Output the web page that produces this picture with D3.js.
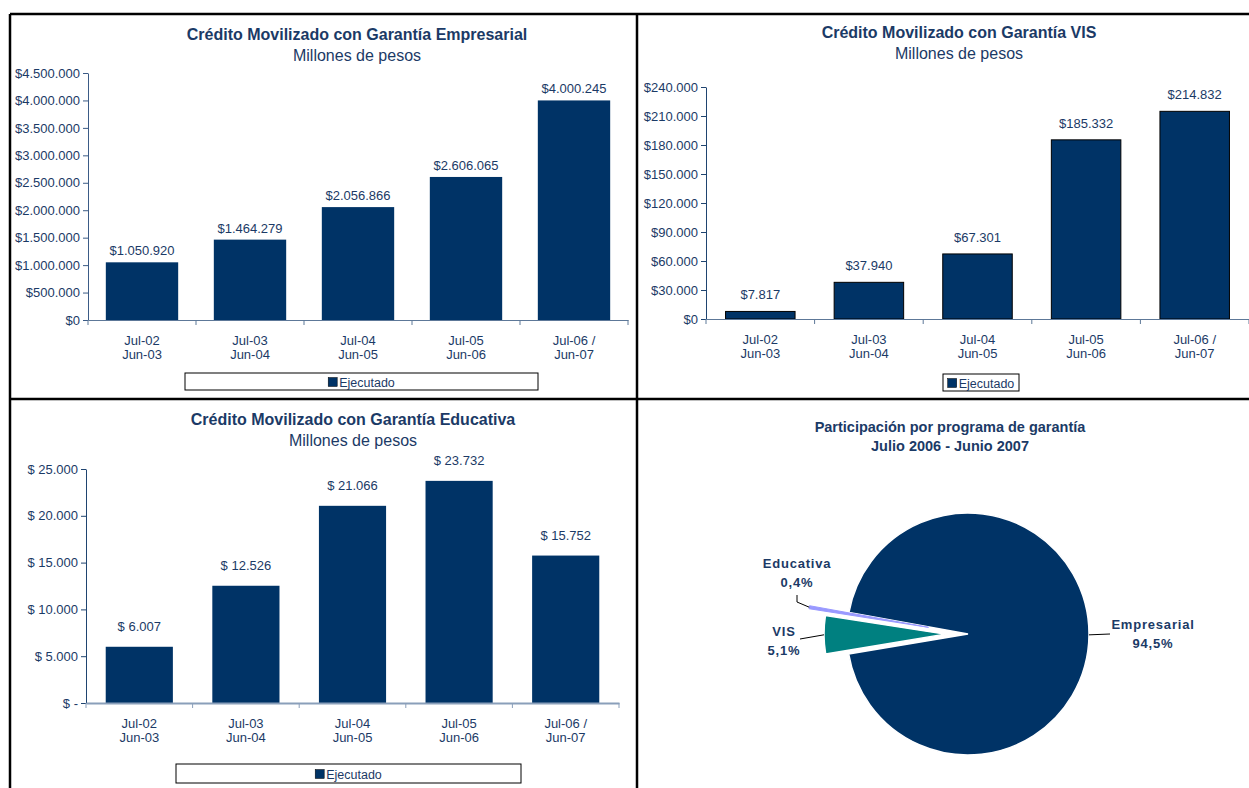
<!DOCTYPE html>
<html>
<head>
<meta charset="utf-8">
<script src="https://cdn.jsdelivr.net/npm/d3@7"></script>
<style>
	body { margin: 0; background: #fff; }
	text { font-family: "Liberation Sans", Arial, sans-serif; }
</style>
</head>
<body>
<div id="chart"></div>
<script>
	// Datos
	const periods = [
		["Jul-02", "Jun-03"], ["Jul-03", "Jun-04"], ["Jul-04", "Jun-05"],
		["Jul-05", "Jun-06"], ["Jul-06 /", "Jun-07"]
	];
	const empresarialValues = [1050920, 1464279, 2056866, 2606065, 4000245];
	const visValues = [7817, 37940, 67301, 185332, 214832];
	const educativaValues = [6007, 12526, 21066, 23732, 15752];
	const empresarialTicks = [0, 500000, 1000000, 1500000, 2000000, 2500000, 3000000, 3500000, 4000000, 4500000];
	const visTicks = [0, 30000, 60000, 90000, 120000, 150000, 180000, 210000, 240000];
	const educativaTicks = [0, 5000, 10000, 15000, 20000, 25000];
	const seriesName = "Ejecutado";
	const programNames = ["Empresarial", "VIS", "Educativa"];
	const programShares = [94.5, 5.1, 0.4];

	const navy = "#003366";
	const textColor = "#1b3a66";

	const es = d3.formatLocale({ decimal: ",", thousands: ".", grouping: [3], currency: ["$", ""] });
	const fmtInt = es.format(",d");
	const fmtPct = es.format(".1f");

	const svg = d3.select("#chart").append("svg")
		.attr("width", 1249)
		.attr("height", 788);

	/**
	 * Dibuja un grafico de barras en su recuadro
	 */
	function drawBarPanel(p) {
		const g = svg.append("g");
		const keys = periods.map(d => d.join(" "));
		const x = d3.scaleBand()
			.domain(keys)
			.range([p.left, p.right])
			.paddingInner(p.padding)
			.paddingOuter(p.padding / 2);
		const y = d3.scaleLinear()
			.domain([0, p.ticks[p.ticks.length - 1]])
			.range([p.bottom, p.top]);

		// titulo
		g.append("text")
			.attr("x", p.titleX).attr("y", p.titleY)
			.attr("text-anchor", "middle")
			.attr("font-size", 16).attr("font-weight", "bold")
			.attr("fill", textColor)
			.text(p.title);
		g.append("text")
			.attr("x", p.titleX).attr("y", p.titleY + 21)
			.attr("text-anchor", "middle")
			.attr("font-size", 16)
			.attr("fill", textColor)
			.text("Millones de pesos");

		// barras
		g.selectAll(".bar")
			.data(p.values)
			.enter().append("rect")
			.attr("class", "bar")
			.attr("x", (d, i) => x(keys[i]))
			.attr("y", d => y(d))
			.attr("width", x.bandwidth())
			.attr("height", d => y(0) - y(d))
			.attr("fill", navy)
			.attr("stroke", p.barStroke || "none")
			.attr("stroke-width", 1);

		g.selectAll(".val")
			.data(p.values)
			.enter().append("text")
			.attr("class", "val")
			.attr("x", (d, i) => x(keys[i]) + x.bandwidth() / 2)
			.attr("y", d => y(d) - p.labelGap)
			.attr("text-anchor", "middle")
			.attr("font-size", 13)
			.attr("fill", textColor)
			.text(p.valueFormat);

		// eje y
		const yAxis = g.append("g")
			.attr("transform", "translate(" + p.left + ",0)")
			.call(d3.axisLeft(y).tickValues(p.ticks).tickFormat(p.tickFormat).tickSize(5).tickSizeOuter(0));
		yAxis.select(".domain").attr("stroke", p.yAxisColor);
		yAxis.selectAll(".tick line").attr("stroke", p.yAxisColor);
		yAxis.selectAll(".tick text")
			.attr("fill", textColor)
			.attr("font-size", 13)
			.attr("font-family", "Liberation Sans, Arial, sans-serif")
			.attr("x", -8);

		// eje x
		const xAxis = g.append("g")
			.attr("transform", "translate(0," + p.bottom + ")")
			.call(d3.axisBottom(x).tickSize(0).tickFormat(""));
		xAxis.select(".domain")
			.attr("stroke", p.xAxisColor)
			.attr("stroke-width", p.xAxisWidth);
		g.selectAll(".xtick")
			.data(d3.range(keys.length + 1))
			.enter().append("line")
			.attr("x1", i => p.left + i * x.step())
			.attr("x2", i => p.left + i * x.step())
			.attr("y1", p.bottom)
			.attr("y2", p.bottom + 5)
			.attr("stroke", p.xAxisColor);

		const cat = g.selectAll(".cat")
			.data(periods)
			.enter().append("text")
			.attr("class", "cat")
			.attr("text-anchor", "middle")
			.attr("font-size", 13)
			.attr("fill", textColor);
		cat.append("tspan")
			.attr("x", (d, i) => x(keys[i]) + x.bandwidth() / 2)
			.attr("y", p.bottom + 25)
			.text(d => d[0]);
		cat.append("tspan")
			.attr("x", (d, i) => x(keys[i]) + x.bandwidth() / 2)
			.attr("y", p.bottom + 39)
			.text(d => d[1]);

		// leyenda
		const lg = g.append("g");
		lg.append("rect")
			.attr("x", p.legend[0]).attr("y", p.legend[1])
			.attr("width", p.legend[2]).attr("height", p.legend[3])
			.attr("fill", "#fff").attr("stroke", "#000");
		const item = lg.append("g");
		item.append("rect")
			.attr("x", 0).attr("y", -9)
			.attr("width", 9).attr("height", 9)
			.attr("fill", navy).attr("stroke", "#000").attr("stroke-width", 0.5);
		const lt = item.append("text")
			.attr("x", 11).attr("y", 0)
			.attr("font-size", 12.5)
			.attr("fill", textColor)
			.text(seriesName);
		const w = 11 + lt.node().getComputedTextLength();
		item.attr("transform", "translate(" + (p.legend[0] + (p.legend[2] - w) / 2) + "," + (p.legend[1] + p.legend[3] / 2 + 5) + ")");
	}

	drawBarPanel({
		title: "Crédito Movilizado con Garantía Empresarial",
		titleX: 357, titleY: 40,
		values: empresarialValues, ticks: empresarialTicks,
		left: 88, right: 628, top: 73, bottom: 320, padding: 0.33,
		tickFormat: d => "$" + fmtInt(d),
		valueFormat: d => "$" + fmtInt(d),
		labelGap: 7,
		yAxisColor: "#3b5b86", xAxisColor: "#5d7898", xAxisWidth: 1.2,
		legend: [185, 373, 353, 17]
	});

	drawBarPanel({
		title: "Crédito Movilizado con Garantía VIS",
		titleX: 959, titleY: 38,
		values: visValues, ticks: visTicks,
		left: 706, right: 1249, top: 87, bottom: 319, padding: 0.36,
		tickFormat: d => "$" + fmtInt(d),
		valueFormat: d => "$" + fmtInt(d),
		labelGap: 12,
		barStroke: "#000",
		yAxisColor: "#1f4470", xAxisColor: "#5d7898", xAxisWidth: 1.2,
		legend: [943, 374, 76, 17]
	});

	drawBarPanel({
		title: "Crédito Movilizado con Garantía Educativa",
		titleX: 353, titleY: 425,
		values: educativaValues, ticks: educativaTicks,
		left: 86, right: 619, top: 469, bottom: 703, padding: 0.37,
		tickFormat: d => d === 0 ? "$ -" : "$ " + fmtInt(d),
		valueFormat: d => "$ " + fmtInt(d),
		labelGap: 16,
		yAxisColor: "#1f4470", xAxisColor: "#8a9fba", xAxisWidth: 2,
		legend: [176, 764, 345, 19]
	});

	/**
	 * Grafico circular
	 */
	const pieCenter = [968, 634];
	const pieRadius = 121;
	const explode = [0, 23, 40];
	const pieColors = ["#003366", "#008080", "#9999FF"];
	const startDeg = -79.7;
	const pie = d3.pie().sort(null)
		.startAngle(startDeg * Math.PI / 180)
		.endAngle(startDeg * Math.PI / 180 + 2 * Math.PI);
	const arc = d3.arc().innerRadius(0).outerRadius(pieRadius);
	const arcs = pie(programShares);

	const pg = svg.append("g").attr("transform", "translate(" + pieCenter[0] + "," + pieCenter[1] + ")");
	function offset(d, i, r) {
		const a = (d.startAngle + d.endAngle) / 2;
		return [Math.sin(a) * r, -Math.cos(a) * r];
	}
	pg.selectAll(".slice")
		.data(arcs)
		.enter().append("path")
		.attr("class", "slice")
		.attr("transform", (d, i) => "translate(" + offset(d, i, explode[i]) + ")")
		.attr("d", arc)
		.attr("fill", (d, i) => pieColors[i])
		.attr("stroke", (d, i) => i === 2 ? pieColors[i] : "#fff")
		.attr("stroke-width", (d, i) => i === 2 ? 1 : 1.5);

	svg.append("text")
		.attr("x", 950).attr("y", 432)
		.attr("text-anchor", "middle")
		.attr("font-size", 14.5).attr("font-weight", "bold")
		.attr("fill", textColor)
		.text("Participación por programa de garantía");
	svg.append("text")
		.attr("x", 950).attr("y", 451)
		.attr("text-anchor", "middle")
		.attr("font-size", 14.5).attr("font-weight", "bold")
		.attr("fill", textColor)
		.text("Julio 2006 - Junio 2007");

	// etiquetas y lineas guia
	const labelPos = [[1153, 629], [784, 636], [797, 568]];
	const leaderEnd = [[[1110, 634]], [[800, 639]], [[797, 602], [797, 595]]];
	arcs.forEach((d, i) => {
		const e = offset(d, i, explode[i]);
		const o = offset(d, i, pieRadius);
		const start = [pieCenter[0] + e[0] + o[0], pieCenter[1] + e[1] + o[1]];
		svg.append("path")
			.attr("d", d3.line()([start].concat(leaderEnd[i])))
			.attr("fill", "none")
			.attr("stroke", "#000")
			.attr("stroke-width", 1);
		const t = svg.append("text")
			.attr("text-anchor", "middle")
			.attr("font-size", 13).attr("font-weight", "bold")
			.attr("letter-spacing", 0.8)
			.attr("fill", textColor);
		t.append("tspan").attr("x", labelPos[i][0]).attr("y", labelPos[i][1]).text(programNames[i]);
		t.append("tspan").attr("x", labelPos[i][0]).attr("y", labelPos[i][1] + 19).text(fmtPct(programShares[i]) + "%");
	});

	// marco
	const frame = [
		[10, 14, 1249, 14], [10, 14, 10, 788], [637, 14, 637, 788], [10, 399, 1249, 399]
	];
	svg.selectAll(".frame")
		.data(frame)
		.enter().append("line")
		.attr("x1", d => d[0]).attr("y1", d => d[1])
		.attr("x2", d => d[2]).attr("y2", d => d[3])
		.attr("stroke", "#000")
		.attr("stroke-width", 2.5);
</script>
</body>
</html>
